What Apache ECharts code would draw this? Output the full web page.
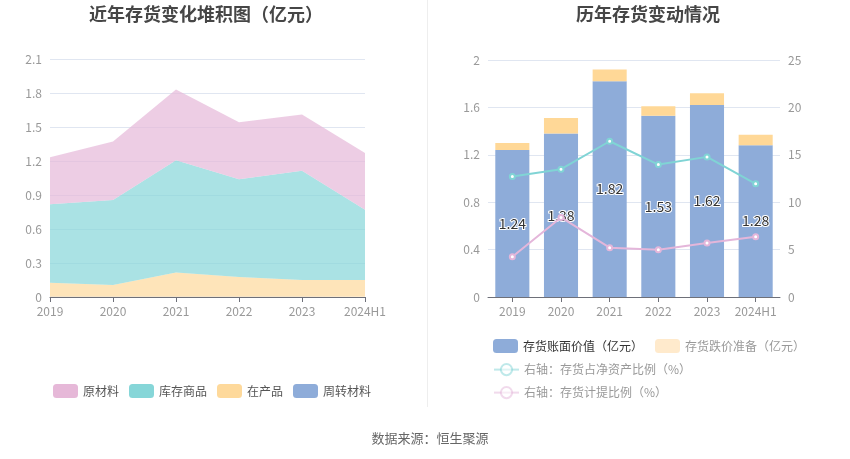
<!DOCTYPE html>
<html><head><meta charset="utf-8">
<script src="https://cdn.jsdelivr.net/npm/echarts@6/dist/echarts.min.js"></script>
<style>html,body{margin:0;padding:0;background:#fff}#c{width:850px;height:459px}</style>
</head><body><div id="c"></div>
<script>
const years = ['2019','2020','2021','2022','2023','2024H1'];
// left: stacked inventory composition (亿元)
const rawMaterial = [0.413, 0.516, 0.625, 0.502, 0.496, 0.501];   // 原材料
const goods = [0.693, 0.750, 0.989, 0.864, 0.965, 0.620];         // 库存商品
const wip = [0.124, 0.103, 0.215, 0.174, 0.147, 0.147];           // 在产品
const turnover = [0.002, 0.002, 0.002, 0.002, 0.002, 0.002];      // 周转材料
// right
const bookValue = [1.24, 1.38, 1.82, 1.53, 1.62, 1.28];           // 存货账面价值
const reserve = [0.06, 0.13, 0.10, 0.08, 0.10, 0.09];             // 存货跌价准备
const ratioNetAsset = [12.71, 13.48, 16.43, 13.97, 14.78, 11.94]; // 存货占净资产比例
const ratioProvision = [4.25, 8.39, 5.20, 4.99, 5.69, 6.36];      // 存货计提比例
const leftTicks = {min:0, max:2.1, interval:0.3};
const rightTicksL = {min:0, max:2, interval:0.4};
const rightTicksR = {min:0, max:25, interval:5};

const C = {pink:'#e6b8d8', teal:'#86d6d8', orange:'#fed99b', blue:'#8eacd9', line1:'#80d4d5', line2:'#e4b6da'};
const FONT = '"Microsoft YaHei","Noto Sans CJK SC",sans-serif';
const axisLabel = {color:'#999', fontSize:12, fontFamily:FONT};
const split = {lineStyle:{color:'#e0e6f1'}};
const chart = echarts.init(document.getElementById('c'));
function area(name, data, color){
  return {name, type:'line', stack:'a', data, xAxisIndex:0, yAxisIndex:0,
    symbol:'none', lineStyle:{width:0}, itemStyle:{color}, areaStyle:{color, opacity:0.7}};
}
chart.setOption({
  animation:false,
  textStyle:{fontFamily:FONT},
  title:[
    {text:'近年存货变化堆积图（亿元）', left:201, textAlign:'center', top:0, textStyle:{fontSize:18, fontWeight:'bold', color:'#464646', fontFamily:FONT}},
    {text:'历年存货变动情况', left:643, textAlign:'center', top:0, textStyle:{fontSize:18, fontWeight:'bold', color:'#464646', fontFamily:FONT}},
    {text:'数据来源：恒生聚源', left:425, textAlign:'center', top:427, textStyle:{fontSize:13, fontWeight:'normal', color:'#666', fontFamily:FONT}}
  ],
  graphic:[{type:'line', shape:{x1:427.5, y1:0, x2:427.5, y2:407}, style:{stroke:'#eeeeee', lineWidth:1}}],
  legend:[
    {left:48, top:379, icon:'roundRect', itemWidth:25, itemHeight:14, itemGap:10, textStyle:{color:'#555', fontSize:12},
      data:['原材料','库存商品','在产品','周转材料']},
    {left:488, top:334, icon:'roundRect', itemWidth:25, itemHeight:14, itemGap:12, textStyle:{fontSize:12},
      data:[{name:'存货账面价值（亿元）', textStyle:{color:'#333'}},
            {name:'存货跌价准备（亿元）', textStyle:{color:'#999'}, itemStyle:{color:'#ffeacc'}}]},
    {left:488, top:358, itemWidth:25, itemHeight:14, textStyle:{fontSize:12, color:'#999'},
      itemStyle:{opacity:0.5}, lineStyle:{opacity:0.5},
      data:['右轴：存货占净资产比例（%）']},
    {left:488, top:381, itemWidth:25, itemHeight:14, textStyle:{fontSize:12, color:'#999'},
      itemStyle:{opacity:0.5}, lineStyle:{opacity:0.5},
      data:['右轴：存货计提比例（%）']}
  ],
  grid:[
    {left:50, right:485, top:59, bottom:162},
    {left:488, right:70, top:60, bottom:162}
  ],
  xAxis:[
    {type:'category', gridIndex:0, data:years, boundaryGap:false,
      axisLine:{lineStyle:{color:'#6e7079'}}, axisTick:{show:true, lineStyle:{color:'#6e7079'}}, axisLabel:{...axisLabel, interval:0}},
    {type:'category', gridIndex:1, data:years, boundaryGap:true,
      axisLine:{lineStyle:{color:'#6e7079'}}, axisTick:{show:true, alignWithLabel:true, interval:0, lineStyle:{color:'#6e7079'}}, axisLabel:{...axisLabel, interval:0}}
  ],
  yAxis:[
    {type:'value', gridIndex:0, ...leftTicks, axisLabel, splitLine:split, axisLine:{show:false}},
    {type:'value', gridIndex:1, ...rightTicksL, axisLabel, splitLine:split, axisLine:{show:false}},
    {type:'value', gridIndex:1, position:'right', ...rightTicksR, axisLabel, splitLine:{show:false}, axisLine:{show:false}}
  ],
  series:[
    area('周转材料', turnover, C.blue),
    area('在产品', wip, C.orange),
    area('库存商品', goods, C.teal),
    area('原材料', rawMaterial, C.pink),
    {name:'存货账面价值（亿元）', type:'bar', stack:'b', xAxisIndex:1, yAxisIndex:1, data:bookValue, barWidth:'70%',
      itemStyle:{color:C.blue},
      label:{show:true, position:'inside', color:'#333', fontSize:14, textBorderColor:'#fff', textBorderWidth:2, formatter:p=>p.value.toFixed(2)}},
    {name:'存货跌价准备（亿元）', type:'bar', stack:'b', xAxisIndex:1, yAxisIndex:1, data:reserve, barWidth:'70%',
      itemStyle:{color:'#ffd897'}},
    {name:'右轴：存货占净资产比例（%）', type:'line', xAxisIndex:1, yAxisIndex:2, data:ratioNetAsset,
      symbol:'emptyCircle', symbolSize:5, itemStyle:{color:C.line1}, lineStyle:{width:2, color:C.line1}},
    {name:'右轴：存货计提比例（%）', type:'line', xAxisIndex:1, yAxisIndex:2, data:ratioProvision,
      symbol:'emptyCircle', symbolSize:5, itemStyle:{color:C.line2}, lineStyle:{width:2, color:C.line2}}
  ]
});
</script></body></html>
